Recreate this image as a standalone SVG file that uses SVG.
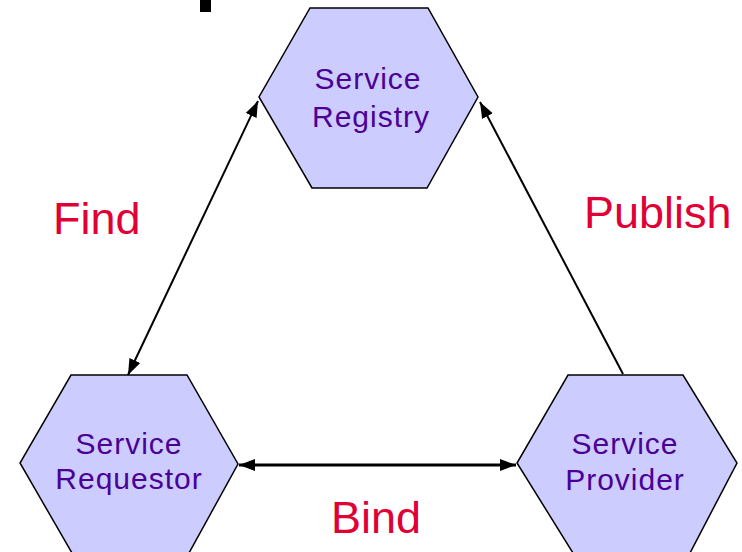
<svg xmlns="http://www.w3.org/2000/svg" width="742" height="552" viewBox="0 0 742 552">
<defs>
<style>
.hex{fill:#CCCCFF;stroke:#000;stroke-width:1.5}
.nt{font-family:"Liberation Sans",Arial,sans-serif;font-size:30px;fill:#4B0096;text-anchor:middle;letter-spacing:1px}
.lbl{font-family:"Liberation Sans",Arial,sans-serif;font-size:45px;fill:#E00036}
.conn{stroke:#000;fill:none}
</style>
<marker id="ah" markerUnits="userSpaceOnUse" markerWidth="18" markerHeight="14" refX="16" refY="7" orient="auto-start-reverse">
<path d="M0,1 L16,7 L0,13 Z" fill="#000"/>
</marker>
</defs>
<rect width="742" height="552" fill="#fff"/>
<rect x="200" y="0" width="11" height="12" fill="#000"/>
<g id="connectors">
<line class="conn" stroke-width="2" x1="128" y1="375" x2="258" y2="101" marker-start="url(#ah)" marker-end="url(#ah)"/>
<line class="conn" stroke-width="2" x1="623" y1="374" x2="480" y2="102" marker-end="url(#ah)"/>
<line class="conn" stroke-width="3" x1="239" y1="465" x2="516" y2="465" marker-start="url(#ah)" marker-end="url(#ah)"/>
</g>
<g id="registry">
<polygon class="hex" points="310,8 428,8 478,97 427,188 312,188 259,97"/>
<text class="nt" x="368" y="89">Service</text>
<text class="nt" x="371" y="127">Registry</text>
</g>
<g id="requestor">
<polygon class="hex" points="71,375 187,375 238,464 189,553 72,553 20,463"/>
<text class="nt" x="129" y="454">Service</text>
<text class="nt" x="129" y="489">Requestor</text>
</g>
<g id="provider">
<polygon class="hex" points="568,375 683,375 737,463 690,553 573,553 517,463"/>
<text class="nt" x="625" y="454">Service</text>
<text class="nt" x="625" y="490">Provider</text>
</g>
<g id="labels">
<text class="lbl" x="53" y="234">Find</text>
<text class="lbl" x="584" y="228">Publish</text>
<text class="lbl" x="331" y="533">Bind</text>
</g>
</svg>
